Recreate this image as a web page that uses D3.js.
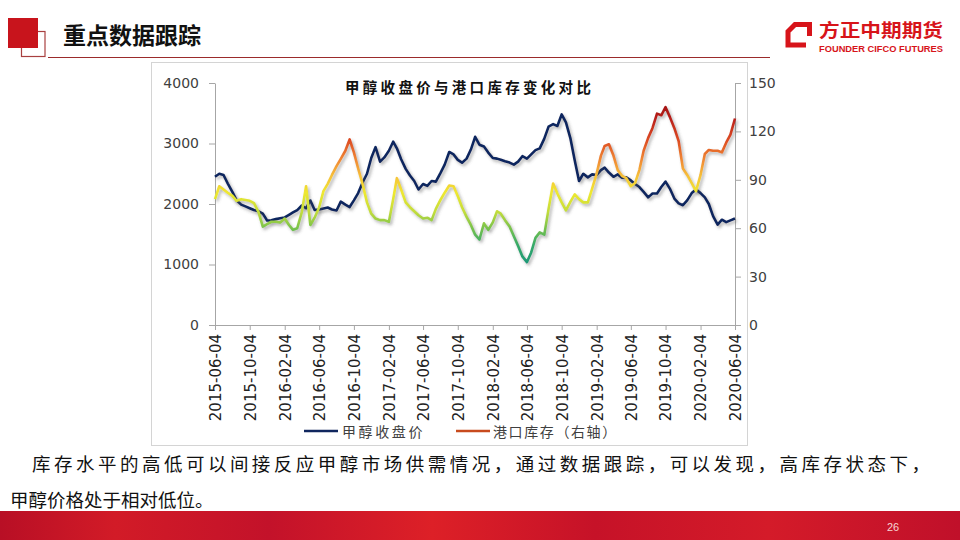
<!DOCTYPE html>
<html><head><meta charset="utf-8">
<script src="https://cdn.jsdelivr.net/npm/d3@7/dist/d3.min.js"></script>
<style>
html,body{margin:0;padding:0;background:#fff;}
svg{display:block;}
</style></head>
<body><svg id="c" width="960" height="540"></svg>
<script>
// ---------------- DATA ----------------
const dates = [
"2015-06-04","2015-06-19","2015-07-04","2015-07-19","2015-08-04","2015-08-19","2015-09-04","2015-09-19","2015-10-04","2015-10-19","2015-11-04","2015-11-19","2015-12-04","2015-12-19",
"2016-01-04","2016-01-19","2016-02-04","2016-02-19","2016-03-04","2016-03-19","2016-04-04","2016-04-19","2016-05-04","2016-05-19","2016-06-04","2016-06-19","2016-07-04","2016-07-19","2016-08-04","2016-08-19","2016-09-04","2016-09-19","2016-10-04","2016-10-19","2016-11-04","2016-11-19","2016-12-04","2016-12-19",
"2017-01-04","2017-01-19","2017-02-04","2017-02-19","2017-03-04","2017-03-19","2017-04-04","2017-04-19","2017-05-04","2017-05-19","2017-06-04","2017-06-19","2017-07-04","2017-07-19","2017-08-04","2017-08-19","2017-09-04","2017-09-19","2017-10-04","2017-10-19","2017-11-04","2017-11-19","2017-12-04","2017-12-19",
"2018-01-04","2018-01-19","2018-02-04","2018-02-19","2018-03-04","2018-03-19","2018-04-04","2018-04-19","2018-05-04","2018-05-19","2018-06-04","2018-06-19","2018-07-04","2018-07-19","2018-08-04","2018-08-19","2018-09-04","2018-09-19","2018-10-04","2018-10-19","2018-11-04","2018-11-19","2018-12-04","2018-12-19",
"2019-01-04","2019-01-19","2019-02-04","2019-02-19","2019-03-04","2019-03-19","2019-04-04","2019-04-19","2019-05-04","2019-05-19","2019-06-04","2019-06-19","2019-07-04","2019-07-19","2019-08-04","2019-08-19","2019-09-04","2019-09-19","2019-10-04","2019-10-19","2019-11-04","2019-11-19","2019-12-04","2019-12-19",
"2020-01-04","2020-01-19","2020-02-04","2020-02-19","2020-03-04","2020-03-19","2020-04-04","2020-04-19","2020-05-04","2020-05-19","2020-06-04"];

// 甲醇收盘价 (left axis)
const priceValues = [
2450,2500,2480,2337,2200,2060,1990,1960,1930,1900,
1880,1840,1728,1730,1750,1765,1778,1820,1860,1900,
1975,1930,2058,1900,1910,1926,1942,1910,1893,2040,
1990,1950,2060,2180,2360,2500,2760,2940,2700,2770,
2880,3030,2920,2740,2580,2470,2380,2240,2330,2300,
2380,2370,2510,2650,2860,2820,2730,2683,2750,2900,
3110,2980,2950,2850,2760,2750,2730,2705,2685,2650,
2700,2790,2749,2820,2890,2920,3080,3280,3320,3290,
3480,3350,3080,2720,2380,2500,2440,2490,2480,2560,
2600,2520,2450,2490,2436,2440,2390,2330,2280,2200,
2110,2173,2173,2280,2370,2255,2090,2010,1980,2060,
2180,2240,2180,2110,2000,1800,1660,1740,1700,1730,
1761];

// 港口库存 (right axis)
const stockValues = [
78,86,84,82,80,77,78,77.5,77,75.5,
70,61,62.5,64,64,63.5,66,62,59,60,
70,86,62,66.5,73,83,87.5,93,98.5,103,
108,115,107,97,87,76,69,66,65,65,
64,78,91,84,76,73,70.5,68,66,66.5,
65,72,77.5,82,86.5,86,80,73,67,62,
56,53,63,59,63.6,70.5,69,65,61,55,
49,42.5,39,45,54,57.4,56,72,87.7,81.5,
76,71,76.5,81,78,76,76,84.6,94,105,
111,112,105,96,92.5,91,86,88,96,108,
116,122,131,130,135,129,122,114,97,93,
88,83,93,106,108.5,108,108,107,113,118,
128];

const xTickLabels = ["2015-06-04","2015-10-04","2016-02-04","2016-06-04","2016-10-04","2017-02-04","2017-06-04","2017-10-04","2018-02-04","2018-06-04","2018-10-04","2019-02-04","2019-06-04","2019-10-04","2020-02-04","2020-06-04"];
const leftTicks = [0,1000,2000,3000,4000];
const rightTicks = [0,30,60,90,120,150];
const seriesNames = ["甲醇收盘价","港口库存（右轴）"];
const chartTitle = "甲醇收盘价与港口库存变化对比";
const pageTitle = "重点数据跟踪";
const bodyText = ["库存水平的高低可以间接反应甲醇市场供需情况，通过数据跟踪，可以发现，高库存状态下，","甲醇价格处于相对低位。"];

// ---------------- DRAW ----------------
const svg = d3.select("#c");
const parse = d3.timeParse("%Y-%m-%d");
const CJK = "'Noto Sans CJK SC','Noto Sans',sans-serif";
const NUM = "'DejaVu Sans',sans-serif";
const defs = svg.append("defs");

// shadow
const f = defs.append("filter").attr("id","sh").attr("x","-5%").attr("y","-10%").attr("width","110%").attr("height","130%");
f.append("feDropShadow").attr("dx",1.8).attr("dy",2.2).attr("stdDeviation",1.4).attr("flood-color","#555").attr("flood-opacity",0.45);

// footer gradient
const fg = defs.append("linearGradient").attr("id","foot").attr("x1","0").attr("x2","1").attr("y1","0").attr("y2","0");
[["0","#b80f25"],["0.12","#d21b27"],["0.28","#c3122a"],["0.45","#dd2027"],["0.62","#c61228"],["0.8","#d41b29"],["1","#c0102a"]]
  .forEach(s=>fg.append("stop").attr("offset",s[0]).attr("stop-color",s[1]));

// header
svg.append("rect").attr("x",21.5).attr("y",31.5).attr("width",23.5).attr("height",25).attr("fill","none").attr("stroke","#a84040").attr("stroke-width",1.2);
svg.append("rect").attr("x",8).attr("y",18).attr("width",30).attr("height",30).attr("fill","#c8141c");
svg.append("text").attr("x",63).attr("y",44).attr("font-family",CJK).attr("font-weight",700).attr("font-size",23).attr("fill","#111").text(pageTitle);
svg.append("line").attr("x1",48).attr("x2",770).attr("y1",57.5).attr("y2",57.5).attr("stroke","#9b2b2b").attr("stroke-width",1);

// logo
svg.append("path").attr("d","M809.5,36 L809.5,24.5 L795,24.5 L788,31.5 L788,45 L806,45").attr("fill","none").attr("stroke","#d7141a").attr("stroke-width",5).attr("stroke-linejoin","miter");
svg.append("text").attr("x",819).attr("y",37).attr("font-family",CJK).attr("font-weight",700).attr("font-size",18).attr("fill","#d7141a").attr("textLength",124).attr("lengthAdjust","spacingAndGlyphs").text("方正中期期货");
svg.append("text").attr("x",819).attr("y",52).attr("font-family","'Liberation Sans',Arial,sans-serif").attr("font-weight",700).attr("font-size",8.5).attr("fill","#d7141a").attr("textLength",124).attr("lengthAdjust","spacingAndGlyphs").text("FOUNDER CIFCO FUTURES");

// chart box
svg.append("rect").attr("x",151.5).attr("y",62.5).attr("width",596).attr("height",383).attr("fill","#fff").attr("stroke","#d4d4d4").attr("stroke-width",1);

const x = d3.scaleTime().domain([parse(xTickLabels[0]), parse(xTickLabels[xTickLabels.length-1])]).range([215,735]);
const yL = d3.scaleLinear().domain([0,4000]).range([325,83]);
const yR = d3.scaleLinear().domain([0,150]).range([325,83]);

svg.append("text").attr("x",345).attr("y",93).attr("font-family",CJK).attr("font-weight",700).attr("font-size",14.5).attr("letter-spacing","3.3px").attr("fill","#111").text(chartTitle);

const axisColor = "#a6a6a6";
function styleAxis(g){
  g.select(".domain").attr("stroke",axisColor);
  g.selectAll(".tick line").attr("stroke",axisColor);
  g.selectAll("text").attr("fill","#404040").attr("font-family",NUM).attr("font-size",14);
}
svg.append("g").attr("transform","translate(215,0)")
  .call(d3.axisLeft(yL).tickValues(leftTicks).tickFormat(d3.format("d")).tickSize(6).tickPadding(10).tickSizeOuter(0))
  .call(styleAxis);
svg.append("g").attr("transform","translate(735,0)")
  .call(d3.axisRight(yR).tickValues(rightTicks).tickFormat(d3.format("d")).tickSize(6).tickPadding(8).tickSizeOuter(0))
  .call(styleAxis);
const xa = svg.append("g").attr("transform","translate(0,325)")
  .call(d3.axisBottom(x).tickValues(xTickLabels.map(parse)).tickFormat(d3.timeFormat("%Y-%m-%d")).tickSize(5).tickSizeOuter(0))
  .call(styleAxis);
xa.selectAll("text").attr("font-size",15).attr("fill","#222")
  .attr("transform","rotate(-90)").attr("text-anchor","end").attr("x",-9).attr("y",0).attr("dy","0.36em");

// data rows
const rows = dates.map((d,i)=>({date:parse(d), price:priceValues[i], stock:stockValues[i]}));

// value-based gradient for stock line
const gStops = [[38,"#1c9878"],[50,"#38aa68"],[60,"#78c24c"],[70,"#c2dc3c"],[82,"#eee830"],[92,"#f6c23a"],[102,"#f08a34"],[115,"#dc4a22"],[128,"#b8201a"],[140,"#9a1010"]];
const ig = defs.append("linearGradient").attr("id","inv").attr("gradientUnits","userSpaceOnUse")
  .attr("x1",0).attr("x2",0).attr("y1",yR(38)).attr("y2",yR(140));
gStops.forEach(s=>ig.append("stop").attr("offset",(s[0]-38)/(140-38)).attr("stop-color",s[1]));

svg.append("path").datum(rows)
  .attr("d",d3.line().x(d=>x(d.date)).y(d=>yL(d.price)))
  .attr("fill","none").attr("stroke","#10265e").attr("stroke-width",2.6).attr("stroke-linejoin","round").attr("filter","url(#sh)");
svg.append("path").datum(rows)
  .attr("d",d3.line().x(d=>x(d.date)).y(d=>yR(d.stock)))
  .attr("fill","none").attr("stroke","url(#inv)").attr("stroke-width",2.6).attr("stroke-linejoin","round").attr("filter","url(#sh)");

// legend
const lg = svg.append("g");
lg.append("line").attr("x1",304).attr("x2",338).attr("y1",431).attr("y2",431).attr("stroke","#10265e").attr("stroke-width",2.6);
lg.append("text").attr("x",342).attr("y",436.5).attr("font-family",CJK).attr("font-size",14).attr("letter-spacing","2.6px").attr("fill","#404040").text(seriesNames[0]);
lg.append("line").attr("x1",456).attr("x2",490).attr("y1",431).attr("y2",431).attr("stroke","#c84b1e").attr("stroke-width",2.6);
lg.append("text").attr("x",493).attr("y",436.5).attr("font-family",CJK).attr("font-size",14).attr("letter-spacing","1.6px").attr("fill","#404040").text(seriesNames[1]);

// body text
svg.append("text").attr("x",32).attr("y",471).attr("font-family",CJK).attr("font-size",18.5).attr("fill","#111")
  .attr("textLength",898).attr("lengthAdjust","spacing").text(bodyText[0]);
svg.append("text").attr("x",10).attr("y",507).attr("font-family",CJK).attr("font-size",18.5).attr("fill","#111").text(bodyText[1]);

// footer
svg.append("rect").attr("x",0).attr("y",511).attr("width",960).attr("height",29).attr("fill","url(#foot)");
svg.append("text").attr("x",887).attr("y",531).attr("font-family","'Liberation Sans',Arial,sans-serif").attr("font-size",11).attr("fill","#f6d4d4").text("26");
</script>
</body></html>
